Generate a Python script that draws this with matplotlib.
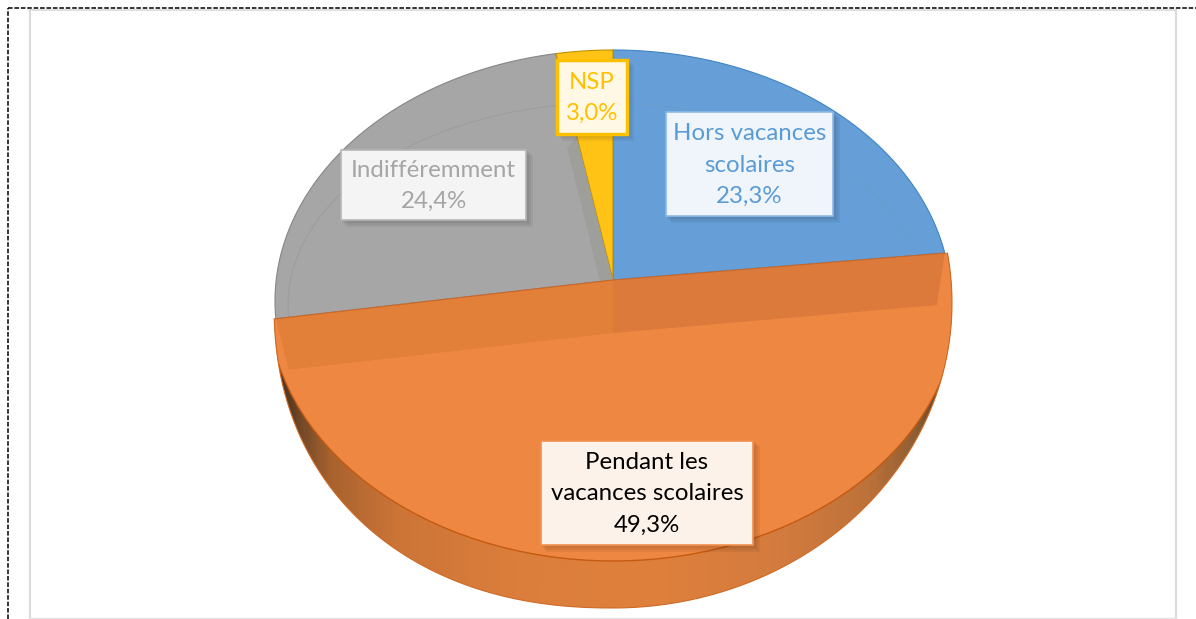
import numpy as np
from matplotlib import pyplot as plt
from matplotlib.colors import LinearSegmentedColormap
from matplotlib.patches import Ellipse, Rectangle

labels = ['Hors vacances\nscolaires', 'Pendant les\nvacances scolaires', 'Indifféremment', 'NSP']
values = [23.3, 49.3, 24.4, 3.0]
value_text = ['23,3%', '49,3%', '24,4%', '3,0%']
colors = ['#669FD7', '#EE8742', '#A6A6A6', '#FFC316']
edges = ['#3F83C4', '#C55A11', '#868686', '#BF9000']
text_colors = ['#5B9BD5', '#000000', '#A5A5A5', '#FFC000']
box_faces = ['#EFF5FB', '#FDF2EA', '#F4F4F4', '#FFF8E5']
box_edges = ['#8DB9E5', '#F0904F', '#B5B5B5', '#FFC000']
# x0, y0, x1, y1 in pixels
boxes = [(666, 112, 833, 216), (541, 441, 753, 545), (341, 150, 526, 220), (557, 60, 627, 134)]

plt.rcParams['font.family'] = ['Lato', 'DejaVu Sans']
fig = plt.figure(figsize=(11.96, 6.19), dpi=100)
ax = fig.add_axes([0, 0, 1, 1])
ax.set_axis_off()

# the page frame
ax.plot([8, 8], [619, 8], c='k', lw=1.1, ls=(0, (3, 1.2)))
ax.plot([8, 1196], [8, 8], c='k', lw=1.1, ls=(0, (3, 1.2)))
ax.plot([29.5, 29.5], [10, 619], c='#DADADA', lw=1.5)
ax.plot([1176, 1176], [10, 619], c='#DADADA', lw=1.5)
ax.plot([29, 1176], [10, 10], c='#DADADA', lw=1.2)
ax.plot([29, 1176], [618, 618], c='#E4E4E4', lw=1)

# pie geometry
apex = (613.0, 280.0)
top_c = (613.0, 301.0)
top_rx, top_ry = 338.0, 251.0
k = 0.757


def rim(theta):
    # where a ray from the apex meets the top ellipse, theta clockwise from 12 o'clock
    dx = np.sin(theta) / top_rx
    dy = -k * np.cos(theta) / top_ry
    oy = (apex[1] - top_c[1]) / top_ry
    a = dx * dx + dy * dy
    b = 2 * oy * dy
    c = oy * oy - 1
    t = (-b + np.sqrt(b * b - 4 * a * c)) / (2 * a)
    return apex[0] + t * np.sin(theta), apex[1] - t * k * np.cos(theta)


bounds = np.radians(np.cumsum([0] + values) * 3.6)
right_x, right_y = rim(bounds[1])
left_x, left_y = rim(bounds[2])

# outer outline of the lower part, from the right end of the cut round the bottom
sil_c = (613.0, 303.0)
sil_rx, sil_ry = 339.0, 305.0
a0 = np.arcsin((right_y - sil_c[1]) / sil_ry)
a1 = np.pi - np.arcsin(((left_y - sil_c[1]) / sil_ry) ** 1.1)
aa = np.linspace(a0, a1, 300)
ca, sa = np.cos(aa), np.sin(aa)
# the left side of the picture bulges a little more than an ellipse
pw = np.where(ca < 0, 2 / 2.2, 1.0)
sil_x = sil_c[0] + sil_rx * np.sign(ca) * np.abs(ca) ** pw
sil_y = sil_c[1] + sil_ry * np.sign(sa) * np.abs(sa) ** pw
sil = ax.fill(np.r_[sil_x, apex[0]], np.r_[sil_y, apex[1]], fc='none', ec='none', zorder=1)[0]
ax.plot(sil_x, sil_y, c='#D06A25', lw=0.8, zorder=2.5)

# side of the pie
side_cmap = LinearSegmentedColormap.from_list('side', [
    (0.0, '#3F2C1E'), (0.03, '#6A4526'), (0.08, '#A8622E'), (0.18, '#CC7537'), (0.35, '#DB7E3C'),
    (0.55, '#E0803C'), (0.75, '#D37B3F'), (0.88, '#BD7239'), (0.95, '#8F5E33'), (1.0, '#4F3A26')])
img = ax.imshow(np.linspace(0, 1, 300).reshape(1, -1), extent=(274, 952, 619, 250), aspect='auto',
                cmap=side_cmap, zorder=1)
img.set_clip_path(sil)

# top of the orange slice, moved down from the others
face = Ellipse((613, 300), 690, 522, fc=colors[1], ec=edges[1], lw=1, zorder=2)
ax.add_patch(face)
face.set_clip_path(sil)

# back slices
wedges = {}
for i in [0, 2, 3]:
    th = np.linspace(bounds[i], bounds[i + 1], 80)
    px, py = rim(th)
    wedges[i] = ax.fill(np.r_[apex[0], px], np.r_[apex[1], py], fc=colors[i], ec=edges[i], lw=0.8, zorder=3)[0]

# shade along the NSP slice, only below its label
nx, ny = rim(bounds[3])
sx = apex[0] + 0.63 * (nx - apex[0])
sy = apex[1] + 0.63 * (ny - apex[1])
shade = ax.fill([apex[0], sx, sx - 10, apex[0] - 13], [apex[1], sy, sy + 10, apex[1] + 1],
                fc='#9E9E9A', ec='none', zorder=3.5)[0]
shade.set_clip_path(wedges[2])

# faint inner ring
ring = np.linspace(0, 2 * np.pi, 300)
for i, col in [(0, '#6A9CCB'), (2, '#9D9D9D')]:
    ln, = ax.plot(607 + 319 * np.cos(ring), 305 + 202 * np.sin(ring), c=col, lw=0.8, zorder=3.6)
    ln.set_clip_path(wedges[i])

# cut side of the orange slice, seen through
low_rx, low_ry = right_x - 8, right_y + 52
low_lx, low_ly = left_x + 13, left_y + 51
ax.fill([left_x, apex[0], apex[0], low_lx], [left_y, apex[1], apex[1] + 53, low_ly], fc='#E27F38', ec='none', zorder=4)
ax.fill([apex[0], right_x, low_rx, apex[0]], [apex[1], right_y, low_ry, apex[1] + 53], fc='#DC7A3C', ec='none', zorder=4)
ax.plot([left_x, apex[0], right_x], [left_y, apex[1], right_y], c='#C8682A', lw=0.8, zorder=4.5)

# labels
for i in range(4):
    x0, y0, x1, y1 = boxes[i]
    for off in [7, 5, 3]:
        ax.add_patch(Rectangle((x0 + off - 2, y0 + off - 2), x1 - x0 + 2, y1 - y0 + 2, fc='k', ec='none',
                               alpha=0.05, zorder=5))
    ax.add_patch(Rectangle((x0, y0), x1 - x0, y1 - y0, fc=box_faces[i], ec=box_edges[i],
                           lw=2.5 if i == 3 else 1.2, zorder=6))
    ax.text((x0 + x1) / 2, (y0 + y1) / 2 + 1, labels[i] + '\n' + value_text[i], color=text_colors[i],
            fontsize=17.3, ha='center', va='center', linespacing=1.62, zorder=7)

ax.set_xlim(0, 1196)
ax.set_ylim(619, 0)
fig.savefig('out.png', dpi=100, facecolor='white')
